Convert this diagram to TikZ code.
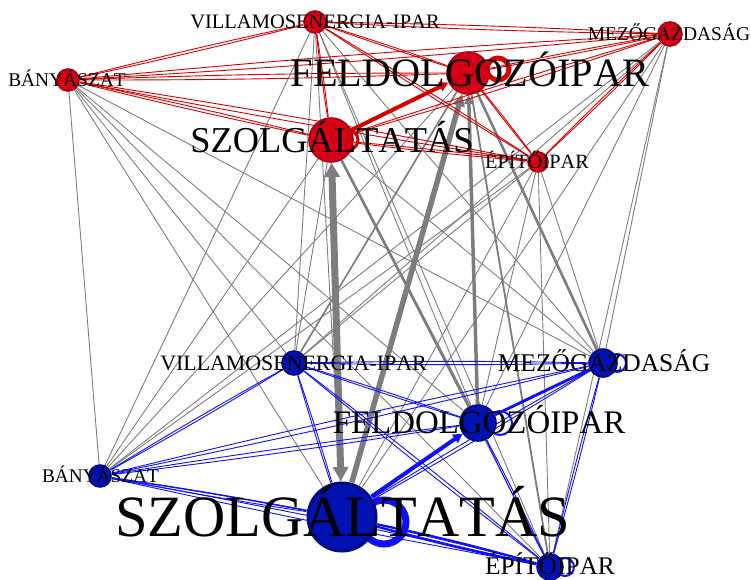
\documentclass[tikz,border=0pt]{standalone}
\usepackage{fontspec}
\setmainfont{Liberation Serif}[Kerning=Off]
\usetikzlibrary{arrows.meta}
\definecolor{rfill}{RGB}{213,0,22}
\definecolor{rdraw}{RGB}{168,0,14}
\definecolor{bfill}{RGB}{0,18,178}
\definecolor{bdraw}{RGB}{0,12,130}
\definecolor{redge}{RGB}{215,0,0}
\definecolor{bedge}{RGB}{15,15,250}
\definecolor{gedge}{RGB}{125,125,125}
\begin{document}
\begin{tikzpicture}[x=1pt,y=-1pt,
  vtx/.style={circle, inner sep=0pt, outer sep=0pt},
  rlink/.style={draw=redge, line width=0.9pt},
  blink/.style={draw=bedge, line width=0.9pt},
  glink/.style={draw=gedge, line width=0.9pt},
  rdisk/.style={fill=rfill, draw=rdraw, line width=1.6pt},
  bdisk/.style={fill=bfill, draw=bdraw, line width=1.6pt},
  lbl/.style={anchor=base, inner sep=0pt, text=black},
]
\useasboundingbox (0,0) rectangle (751,579);
% vertices (invisible anchors)
\node[vtx, minimum size=24pt] (rV) at (315,22) {};
\node[vtx, minimum size=24pt] (rB) at (68,80) {};
\node[vtx, minimum size=44pt] (rF) at (468,73) {};
\node[vtx, minimum size=26pt] (rM) at (670,34) {};
\node[vtx, minimum size=46pt] (rS) at (331,140) {};
\node[vtx, minimum size=22pt] (rE) at (538,162) {};
\node[vtx, minimum size=26pt] (bV) at (294,363) {};
\node[vtx, minimum size=30pt] (bM) at (603,363) {};
\node[vtx, minimum size=38pt] (bF) at (478,423) {};
\node[vtx, minimum size=24pt] (bB) at (100,476) {};
\node[vtx, minimum size=72pt] (bS) at (342,517) {};
\node[vtx, minimum size=28pt] (bE) at (550,567) {};
% inter-layer edges
\foreach \r in {rV,rB,rF,rM,rS,rE}
  \foreach \b in {bV,bM,bF,bB,bS,bE}
    \draw[glink] (\r) -- (\b);
\draw[gedge, line width=7pt, {Triangle[length=14pt,width=15pt]}-{Triangle[length=14pt,width=15pt]}] (rS) -- (bS);
\draw[gedge, line width=5.5pt, -{Triangle[length=12pt,width=12pt]}] (bS) -- (rF);
\draw[gedge, line width=3.5pt, -{Triangle[length=9pt,width=9pt]}] (bF) -- (rF);
\draw[gedge, line width=2.6pt] (rS) -- (bF);
\draw[gedge, line width=2.6pt] (rF) -- (bM);
\draw[gedge, line width=1.8pt] (rF) -- (bE);
\draw[gedge, line width=1.6pt] (rF) -- (bV);
% red intra-layer edges
\foreach \a/\b in {rV/rB,rV/rF,rV/rM,rV/rS,rV/rE,rB/rF,rB/rM,rB/rS,rB/rE,rF/rM,rF/rE,rM/rS,rM/rE,rS/rE}{
  \draw[rlink] (\a) to[bend left=1] (\b);
  \draw[rlink] (\b) to[bend left=1] (\a);
}
\draw[redge, line width=4pt, -{Triangle[length=9pt,width=10pt]}] (rS) -- (rF);
% blue intra-layer edges
\foreach \a/\b in {bV/bM,bV/bF,bV/bB,bV/bS,bV/bE,bM/bF,bM/bB,bM/bS,bM/bE,bF/bB,bF/bE,bB/bS,bB/bE,bS/bE}{
  \draw[blink] (\a) to[bend left=1] (\b);
  \draw[blink] (\b) to[bend left=1] (\a);
}
\draw[bedge, line width=4pt, -{Triangle[length=9pt,width=10pt]}] (bS) -- (bF);
\draw[bedge, line width=2.8pt] (bF) -- (bM);
\draw[bedge, line width=2pt] (bS) to[bend left=2] (bE);
\draw[bedge, line width=2pt] (bE) to[bend left=2] (bS);
\draw[bedge, line width=1.4pt] (bB) to[bend left=1] (bS);
% self loops
\draw[redge, line width=5pt] (498,69) circle[radius=11];
\draw[redge, line width=3pt] (348,140) circle[radius=10];
\draw[bedge, line width=7pt] (384,522) circle[radius=22];
\draw[bedge, line width=2pt] (500,423) circle[radius=12];
\draw[bedge, line width=2pt] (617,363) circle[radius=9];
\draw[bedge, line width=2pt] (565,567) circle[radius=9];
% vertex disks
\foreach \n/\r in {rV/11,rB/11,rF/21,rM/12,rS/22,rE/10}
  \draw[rdisk] (\n.center) circle[radius=\r];
\foreach \n/\r in {bV/12,bM/14,bF/18,bB/11,bS/34,bE/13}
  \draw[bdisk] (\n.center) circle[radius=\r];
\draw[bdraw, line width=3pt] (bS.center) circle[radius=34];
% labels
\node[lbl, font=\fontsize{20.5pt}{20.5pt}\selectfont] (lrV) at (315,28.8) {VILLAMOSENERGIA-IPAR};
\node[lbl, font=\fontsize{19.4pt}{19.4pt}\selectfont] (lrB) at (67,86.4) {BÁNYÁSZAT};
\node[lbl, font=\fontsize{40.3pt}{40.3pt}\selectfont] (lrF) at (470,86.3) {FELDOLGOZÓIPAR};
\node[lbl, font=\fontsize{19.5pt}{19.5pt}\selectfont] (lrM) at (669,40.5) {MEZŐGAZDASÁG};
\node[lbl, font=\fontsize{36.4pt}{36.4pt}\selectfont] (lrS) at (332,152.1) {SZOLGÁLTATÁS};
\node[lbl, font=\fontsize{20.3pt}{20.3pt}\selectfont] (lrE) at (537,168.7) {ÉPÍTŐIPAR};
\node[lbl, font=\fontsize{21.9pt}{21.9pt}\selectfont] (lbV) at (293.5,370.2) {VILLAMOSENERGIA-IPAR};
\node[lbl, font=\fontsize{25.5pt}{25.5pt}\selectfont] (lbM) at (604,371.4) {MEZŐGAZDASÁG};
\node[lbl, font=\fontsize{32.9pt}{32.9pt}\selectfont] (lbF) at (479,433.9) {FELDOLGOZÓIPAR};
\node[lbl, font=\fontsize{19.3pt}{19.3pt}\selectfont] (lbB) at (100.5,482.4) {BÁNYÁSZAT};
\node[lbl, font=\fontsize{58.5pt}{58.5pt}\selectfont] (lbS) at (342.5,536.4) {SZOLGÁLTATÁS};
\node[lbl, font=\fontsize{25.4pt}{25.4pt}\selectfont] (lbE) at (550,574.5) {ÉPÍTŐIPAR};
\end{tikzpicture}
\end{document}
